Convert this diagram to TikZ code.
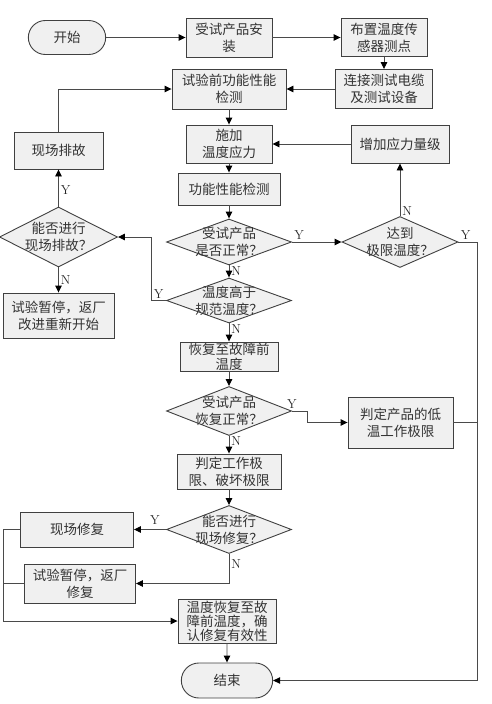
\documentclass[tikz,border=0pt]{standalone}
\usepackage{fontspec}
\newfontfamily\cjk{Noto Sans CJK SC}
\usetikzlibrary{positioning, arrows.meta, shapes.geometric, shapes.misc}
\definecolor{boxfill}{HTML}{F0F0F0}
\definecolor{boxline}{HTML}{404040}
\definecolor{wirecol}{HTML}{4A4A4A}

\begin{document}
\begin{tikzpicture}[
    x=1pt, y=-1pt,
    box/.style={rectangle, draw=boxline, fill=boxfill, line width=0.9pt, text=black!80, font=\cjk\fontsize{13.5}{17}\selectfont, align=center, inner sep=0pt},
    term/.style={rounded rectangle, draw=boxline, fill=boxfill, line width=0.9pt, text=black!80, font=\cjk\fontsize{13.5}{17}\selectfont, minimum width=98pt, minimum height=35pt},
    decision/.style={diamond, draw=boxline, fill=boxfill, line width=0.9pt, inner sep=0pt},
    dtext/.style={text=black!80, font=\cjk\fontsize{13.5}{17}\selectfont, align=center, inner sep=0pt},
    yn/.style={font=\fontsize{13}{13}\selectfont, text=black!85, inner sep=2pt},
    arrow/.style={-{Triangle[length=7pt,width=6.5pt,color=black]}, draw=wirecol, line width=0.9pt},
    wire/.style={draw=wirecol, line width=0.9pt}
  ]
  \useasboundingbox (0,0) rectangle (491,704);

  % Start and set-up
  \node[term, minimum width=84pt, minimum height=34pt] (start) at (67,37.5) {开始};
  \node[box, minimum width=86pt, minimum height=39pt] (install) at (229,37.5) {受试产品安\\装};
  \node[box, minimum width=86pt, minimum height=38pt] (sensor) at (384,37.5) {布置温度传\\感器测点};
  \node[box, minimum width=97pt, minimum height=39pt] (cable) at (384,89) {连接测试电缆\\及测试设备};
  \node[box, minimum width=114pt, minimum height=40pt] (precheck) at (229,89) {试验前功能性能\\检测};

  % Stress loop
  \node[box, minimum width=86pt, minimum height=38pt] (apply) at (229,144) {施加\\温度应力};
  \node[box, minimum width=98pt, minimum height=38pt] (raise) at (400,144) {增加应力量级};
  \node[box, minimum width=102pt, minimum height=32pt] (func) at (229,189) {功能性能检测};
  \node[decision, minimum width=125pt, minimum height=46pt, label={[dtext]center:受试产品\\是否正常？}] (okq) at (229,242) {};
  \node[decision, minimum width=116pt, minimum height=51pt, label={[dtext]center:达到\\极限温度？}] (limitq) at (400,242) {};
  \node[decision, minimum width=125pt, minimum height=45pt, label={[dtext]center:温度高于\\规范温度？}] (hotq) at (229,300.5) {};

  % Troubleshooting branch
  \node[box, minimum width=89pt, minimum height=37pt] (fixfield) at (58.5,150.5) {现场排故};
  \node[decision, minimum width=118pt, minimum height=60pt, label={[dtext]center:能否进行\\现场排故？}] (troubleq) at (58.5,237) {};
  \node[box, minimum width=111pt, minimum height=45pt] (abort) at (58.5,315.5) {试验暂停，返厂\\改进重新开始};

  % Failure handling
  \node[box, minimum width=98pt, minimum height=29pt, font=\cjk\fontsize{13.5}{15}\selectfont] (restore) at (229,356.5) {恢复至故障前\\温度};
  \node[decision, minimum width=125pt, minimum height=49pt, label={[dtext]center:受试产品\\恢复正常？}] (restoreq) at (229,411) {};
  \node[box, minimum width=105pt, minimum height=51pt] (lowlim) at (400.5,422.5) {判定产品的低\\温工作极限};
  \node[box, minimum width=104pt, minimum height=35pt] (judge) at (229,471.5) {判定工作极\\限、破坏极限};
  \node[decision, minimum width=125pt, minimum height=48pt, label={[dtext]center:能否进行\\现场修复？}] (repairq) at (229,529.5) {};
  \node[box, minimum width=113pt, minimum height=35pt] (fixsite) at (77,529.5) {现场修复};
  \node[box, minimum width=111pt, minimum height=39pt] (returnfix) at (80,583.5) {试验暂停，返厂\\修复};
  \node[box, minimum width=98pt, minimum height=44pt, font=\cjk\fontsize{13.5}{14}\selectfont] (verify) at (227,621) {温度恢复至故\\障前温度，确\\认修复有效性};
  \node[term] (end) at (227,680.5) {结束};

  % Bus lines
  \coordinate (lbus) at (3,600);
  \coordinate (rbus) at (477,400);

  % Arrows
  \draw[arrow] (start) -- (install);
  \draw[arrow] (install) -- (sensor);
  \draw[arrow] (sensor) -- (cable);
  \draw[arrow] (cable) -- (precheck);
  \draw[arrow] (precheck) -- (apply);
  \draw[arrow] (apply) -- (func);
  \draw[arrow] (func) -- (okq);
  \draw[arrow] (okq.east) -- node[yn, pos=0, above right]{Y} (limitq.west);
  \draw[arrow] (okq.south) -- node[yn, midway, right]{N} (hotq.north);
  \draw[arrow] (limitq.north) -- node[yn, pos=0.1, right]{N} (raise.south);
  \draw[arrow] (raise) -- (apply);
  \draw[arrow] (hotq.west) -- node[yn, midway, above]{Y} ++(-15,0) |- (troubleq.east);
  \draw[arrow] (troubleq.north) -- node[yn, pos=0.45, right]{Y} (fixfield.south);
  \draw[arrow] (fixfield.north) |- (precheck.west);
  \draw[arrow] (troubleq.south) -- node[yn, midway, right]{N} (abort.north);
  \draw[arrow] (hotq.south) -- node[yn, pos=0.3, right]{N} (restore.north);
  \draw[arrow] (restore) -- (restoreq);
  \draw[arrow] (restoreq.east) -- node[yn, pos=0, above]{Y} ++(15,0) |- (lowlim.west);
  \draw[arrow] (restoreq.south) -- node[yn, pos=0.3, right]{N} (judge.north);
  \draw[arrow] (judge) -- (repairq);
  \draw[arrow] (repairq.west) -- node[yn, pos=0.35, above=3pt]{Y} (fixsite.east);
  \draw[arrow] (repairq.south) |- node[yn, pos=0.17, right]{N} (returnfix.east);
  \draw[arrow] (fixsite.west) -- (fixsite.west -| lbus) |- (verify.west);
  \draw[wire] (returnfix.west) -- (returnfix.west -| lbus);
  \draw[arrow] (verify) -- (end);
  \draw[arrow] (limitq.east) -- node[yn, pos=0, above right]{Y} (limitq.east -| rbus) |- (end.east);
  \draw[wire] (lowlim.east) -- (lowlim.east -| rbus);

\end{tikzpicture}
\end{document}
